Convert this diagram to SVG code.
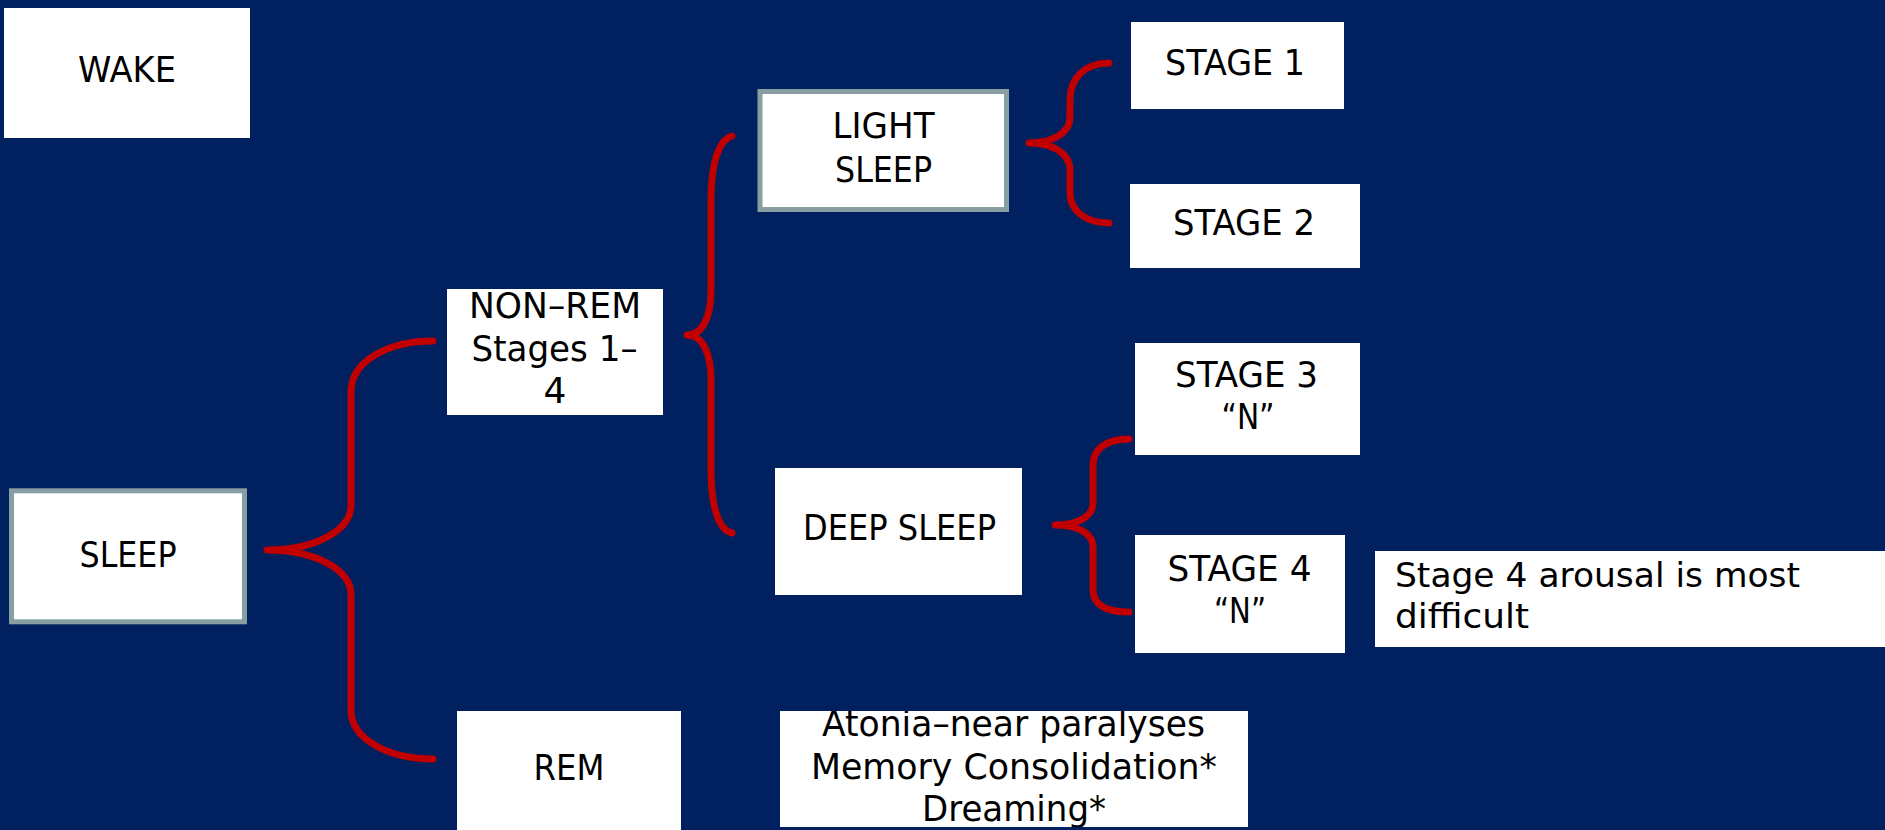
<svg xmlns="http://www.w3.org/2000/svg" width="1885" height="830" viewBox="0 0 1885 830">
<style>
.box{fill:#ffffff}
.bbox{fill:#ffffff;stroke:#879fa3;stroke-width:5}
.t{font-family:"DejaVu Sans","Liberation Sans",sans-serif;font-size:36px;fill:#000000;text-anchor:middle}
.tl{font-family:"DejaVu Sans","Liberation Sans",sans-serif;font-size:34px;fill:#000000}
.brace{fill:none;stroke:#c00000;stroke-width:7;stroke-linecap:round;stroke-linejoin:round}
</style>
<defs>
<clipPath id="clipAtonia"><rect x="780" y="711" width="468" height="116"/></clipPath>
</defs>
<rect x="0" y="0" width="1885" height="830" fill="#002060"/>
<g id="connectors">
<path class="brace" d="M433,341 C390,341 351,360 351,392 L351,505 C351,532 312,550 267,550 C312,550 351,568 351,595 L351,710 C351,740 390,759 433,759"/>
<path class="brace" d="M732,136 C718,140 711,165 711,200 L711,290 C711,318 702,335 687,335 C702,335 711,352 711,380 L711,470 C711,505 718,530 732,533"/>
<path class="brace" d="M1109,63 C1085,63 1070,78 1070,100 L1070,117 C1070,133 1052,143 1029,143 C1052,143 1070,153 1070,170 L1070,193 C1070,210 1085,223 1109,223"/>
<path class="brace" d="M1129,439 C1105,439 1093,450 1093,465 L1093,503 C1093,518 1075,525 1055,525 C1075,525 1093,532 1093,547 L1093,590 C1093,604 1105,612 1129,612"/>
</g>
<g id="wake">
<rect class="box" x="4" y="8" width="246" height="130"/>
<text class="t" x="127" y="82" textLength="98" lengthAdjust="spacingAndGlyphs">WAKE</text>
</g>
<g id="sleep">
<rect class="bbox" x="11.5" y="490.8" width="233" height="131"/>
<text class="t" x="128" y="567" textLength="97" lengthAdjust="spacingAndGlyphs">SLEEP</text>
</g>
<g id="nonrem">
<rect class="box" x="447" y="289" width="216" height="126"/>
<text class="t" x="555" y="318" textLength="172" lengthAdjust="spacingAndGlyphs">NON–REM</text>
<text class="t" x="554.5" y="361" textLength="166" lengthAdjust="spacingAndGlyphs">Stages 1–</text>
<text class="t" x="555" y="403">4</text>
</g>
<g id="rem">
<rect class="box" x="457" y="711" width="224" height="125"/>
<text class="t" x="569" y="780" textLength="71" lengthAdjust="spacingAndGlyphs">REM</text>
</g>
<g id="light">
<rect class="bbox" x="760" y="91.5" width="246.5" height="118"/>
<text class="t" x="883.5" y="138" textLength="102" lengthAdjust="spacingAndGlyphs">LIGHT</text>
<text class="t" x="883.5" y="182" textLength="97" lengthAdjust="spacingAndGlyphs">SLEEP</text>
</g>
<g id="deep">
<rect class="box" x="775" y="468" width="247" height="127"/>
<text class="t" x="899.5" y="540" textLength="193" lengthAdjust="spacingAndGlyphs">DEEP SLEEP</text>
</g>
<g id="stage1">
<rect class="box" x="1131" y="22" width="213" height="87"/>
<text class="t" x="1235" y="75" textLength="140" lengthAdjust="spacingAndGlyphs">STAGE 1</text>
</g>
<g id="stage2">
<rect class="box" x="1130" y="184" width="230" height="84"/>
<text class="t" x="1244" y="235" textLength="142" lengthAdjust="spacingAndGlyphs">STAGE 2</text>
</g>
<g id="stage3">
<rect class="box" x="1135" y="343" width="225" height="112"/>
<text class="t" x="1246.5" y="387" textLength="143" lengthAdjust="spacingAndGlyphs">STAGE 3</text>
<text class="t" x="1248" y="429" textLength="53" lengthAdjust="spacingAndGlyphs">“N”</text>
</g>
<g id="stage4">
<rect class="box" x="1135" y="535" width="210" height="118"/>
<text class="t" x="1239.5" y="581" textLength="144" lengthAdjust="spacingAndGlyphs">STAGE 4</text>
<text class="t" x="1240" y="623" textLength="52" lengthAdjust="spacingAndGlyphs">“N”</text>
</g>
<g id="note">
<rect class="box" x="1375" y="551" width="510" height="96"/>
<text class="tl" x="1395" y="587" textLength="405" lengthAdjust="spacingAndGlyphs">Stage 4 arousal is most</text>
<text class="tl" x="1395" y="628" textLength="134" lengthAdjust="spacingAndGlyphs">difficult</text>
</g>
<g id="atonia">
<rect class="box" x="780" y="711" width="468" height="116"/>
<g clip-path="url(#clipAtonia)">
<text class="t" x="1013.5" y="736" textLength="383" lengthAdjust="spacingAndGlyphs">Atonia–near paralyses</text>
<text class="t" x="1014" y="779" textLength="406" lengthAdjust="spacingAndGlyphs">Memory Consolidation*</text>
<text class="t" x="1014" y="821" textLength="184" lengthAdjust="spacingAndGlyphs">Dreaming*</text>
</g>
</g>
</svg>
